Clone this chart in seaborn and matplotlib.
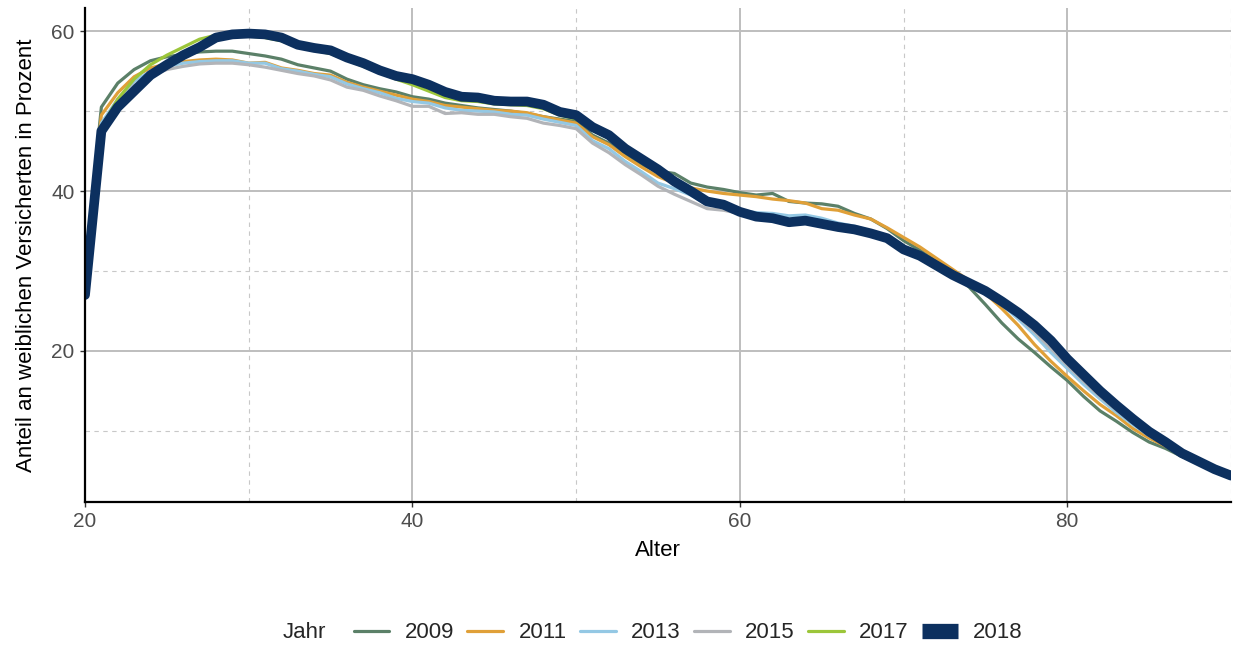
import numpy as np
import pandas as pd
import matplotlib
matplotlib.use("Agg")
import matplotlib.pyplot as plt
import seaborn as sns
from matplotlib.lines import Line2D

ages = list(range(20, 91))

y2009 = [30.0, 50.5, 53.5, 55.2, 56.3, 56.8, 57.1, 57.4, 57.5, 57.5,
         57.2, 56.9, 56.5, 55.8, 55.4, 55.0, 54.0, 53.3, 52.8, 52.4,
         51.8, 51.5, 51.0, 50.7, 50.4, 50.2, 50.0, 49.7, 49.3, 49.0,
         48.7, 47.0, 46.0, 44.5, 43.3, 42.5, 42.2, 41.0, 40.5, 40.2,
         39.8, 39.5, 39.7, 38.7, 38.5, 38.4, 38.1, 37.2, 36.5, 35.3,
         33.8, 32.6, 31.2, 29.7, 28.0, 25.8, 23.5, 21.5, 19.8, 18.0,
         16.3, 14.3, 12.5, 11.2, 9.8, 8.6, 7.8, 6.8, 6.0, 5.4, 4.8]
y2011 = [30.0, 49.5, 52.3, 54.3, 55.4, 55.9, 56.2, 56.4, 56.5, 56.4,
         56.0, 56.1, 55.4, 55.1, 54.7, 54.5, 53.6, 53.0, 52.5, 52.0,
         51.5, 51.2, 50.7, 50.5, 50.3, 50.1, 50.0, 49.8, 49.3, 48.9,
         48.5, 46.8, 45.8, 44.3, 43.0, 41.8, 41.0, 40.4, 40.0, 39.7,
         39.5, 39.3, 39.0, 38.8, 38.5, 37.8, 37.6, 37.0, 36.5, 35.4,
         34.2, 33.0, 31.6, 30.2, 28.8, 27.2, 25.3, 23.2, 20.8, 18.7,
         16.8, 15.0, 13.3, 11.9, 10.3, 9.1, 8.1, 7.1, 6.2, 5.4, 4.7]
y2013 = [30.0, 48.5, 51.5, 53.7, 55.0, 55.6, 56.0, 56.2, 56.3, 56.3,
         56.0, 56.0, 55.3, 55.0, 54.6, 54.3, 53.4, 52.8, 52.3, 51.6,
         51.2, 51.0, 50.4, 50.1, 50.0, 49.9, 49.6, 49.5, 49.0, 48.6,
         48.2, 46.3, 45.3, 43.7, 42.4, 41.0, 40.3, 39.5, 38.3, 38.0,
         37.6, 37.3, 37.2, 36.9, 37.0, 36.6, 36.0, 35.6, 35.0, 34.2,
         33.0, 32.2, 30.9, 29.6, 28.6, 27.3, 25.8, 24.0, 22.0, 19.8,
         17.8, 15.8, 14.0, 12.3, 10.8, 9.4, 8.3, 7.3, 6.3, 5.5, 4.7]
y2015 = [30.0, 48.0, 51.0, 53.2, 54.5, 55.2, 55.6, 55.9, 56.0, 56.0,
         55.8, 55.5, 55.1, 54.7, 54.4, 53.9, 53.0, 52.6, 51.9, 51.3,
         50.6, 50.6, 49.7, 49.8, 49.6, 49.6, 49.3, 49.1, 48.5, 48.2,
         47.8, 46.0, 44.8, 43.3, 42.0, 40.6, 39.6, 38.7, 37.8, 37.6,
         37.2, 36.9, 36.6, 36.2, 36.2, 35.8, 35.4, 35.0, 34.5, 33.9,
         32.6, 31.7, 30.6, 29.4, 28.4, 27.3, 25.9, 24.3, 22.4, 20.3,
         18.2, 16.2, 14.3, 12.6, 11.0, 9.6, 8.4, 7.3, 6.3, 5.4, 4.6]
y2017 = [28.0, 48.0, 51.5, 54.0, 55.8, 57.0, 58.0, 59.0, 59.5, 59.5,
         59.4, 59.2, 58.8, 58.0, 57.6, 57.2, 56.4, 55.6, 54.8, 54.0,
         53.3, 52.5, 51.7, 51.3, 51.2, 50.9, 50.8, 50.7, 50.3, 49.5,
         49.0, 47.6, 46.6, 45.0, 43.6, 42.3, 40.9, 39.7, 38.5, 38.1,
         37.3, 36.8, 36.6, 36.2, 36.3, 35.9, 35.5, 35.2, 34.7, 34.0,
         32.7, 31.9, 30.7, 29.5, 28.5, 27.4, 26.1, 24.6, 23.0, 21.2,
         19.2, 17.0, 15.0, 13.2, 11.5, 9.8, 8.5, 7.3, 6.3, 5.3, 4.5]
y2018 = [27.0, 47.5, 50.5, 52.5, 54.5, 55.8, 57.0, 58.0, 59.2, 59.6,
         59.7, 59.6, 59.2, 58.3, 57.9, 57.6, 56.7, 56.0, 55.1, 54.4,
         54.0, 53.3, 52.4, 51.8, 51.7, 51.3, 51.2, 51.2, 50.8, 49.9,
         49.5, 48.0, 47.0, 45.3, 44.0, 42.7, 41.2, 40.0, 38.7, 38.3,
         37.4, 36.8, 36.6, 36.1, 36.3, 35.9, 35.5, 35.2, 34.7, 34.1,
         32.7, 31.9, 30.7, 29.5, 28.5, 27.5, 26.2, 24.8, 23.2, 21.3,
         19.0, 17.0, 15.0, 13.2, 11.5, 9.9, 8.6, 7.2, 6.2, 5.2, 4.4]

years = ["2009", "2011", "2013", "2015", "2017", "2018"]
series = [y2009, y2011, y2013, y2015, y2017, y2018]
colors = ["#5b8068", "#e0a038", "#94c8e4", "#b2b4b8", "#9cc63a", "#0c305f"]
widths = [2.3, 2.3, 2.3, 2.3, 2.3, 7.0]

df = pd.concat([pd.DataFrame({"Alter": ages, "Anteil": s, "Jahr": y})
                for y, s in zip(years, series)], ignore_index=True)

sns.set_theme(style="white")
plt.rcParams["font.family"] = ["Liberation Sans", "DejaVu Sans"]

fig = plt.figure(figsize=(12.36, 6.46), dpi=100)
ax = fig.add_axes([85 / 1236, 1 - 502 / 646, (1231 - 85) / 1236, (502 - 8) / 646])

for y, c, w in zip(years, colors, widths):
    sns.lineplot(data=df[df["Jahr"] == y], x="Alter", y="Anteil", color=c,
                 linewidth=w, ax=ax, legend=False)

ax.set_xlim(20, 90)
ax.set_ylim(1.1, 62.9)
ax.set_xticks([20, 40, 60, 80])
ax.set_yticks([20, 40, 60])
ax.set_xticks([30, 50, 70, 90], minor=True)
ax.set_yticks([10, 30, 50], minor=True)
ax.grid(which="major", color="#bebebe", linewidth=1.4, linestyle="-")
ax.grid(which="minor", color="#c8c8c8", linewidth=0.8, linestyle=(0, (4, 4)))
ax.set_axisbelow(True)

for s in ["top", "right"]:
    ax.spines[s].set_visible(False)
for s in ["left", "bottom"]:
    ax.spines[s].set_color("black")
    ax.spines[s].set_linewidth(1.6)

ax.tick_params(axis="both", which="major", length=3.5, width=1.0, color="#333333",
               labelsize=15, labelcolor="#4d4d4d", bottom=True, left=True, pad=4)
ax.tick_params(axis="both", which="minor", length=0)
ax.set_xlabel("Alter", fontsize=16, color="black", labelpad=6)
ax.set_ylabel("Anteil an weiblichen Versicherten in Prozent", fontsize=16,
              color="black", labelpad=10)

handles = [Line2D([0], [0], color=c, linewidth=2.3) for c in colors[:-1]]
handles.append(Line2D([0], [0], color=colors[-1], linewidth=11, solid_capstyle="butt"))
leg = fig.legend(handles, years, loc="center left",
                 bbox_to_anchor=(338 / 1236, 13 / 646),
                 ncol=6, frameon=False, fontsize=16, handlelength=1.6,
                 handletextpad=0.7, columnspacing=0.6, borderpad=0.2)
fig.text(283 / 1236, 13 / 646, "Jahr", fontsize=16, ha="left", va="center")

fig.savefig("out.png", dpi=100)
